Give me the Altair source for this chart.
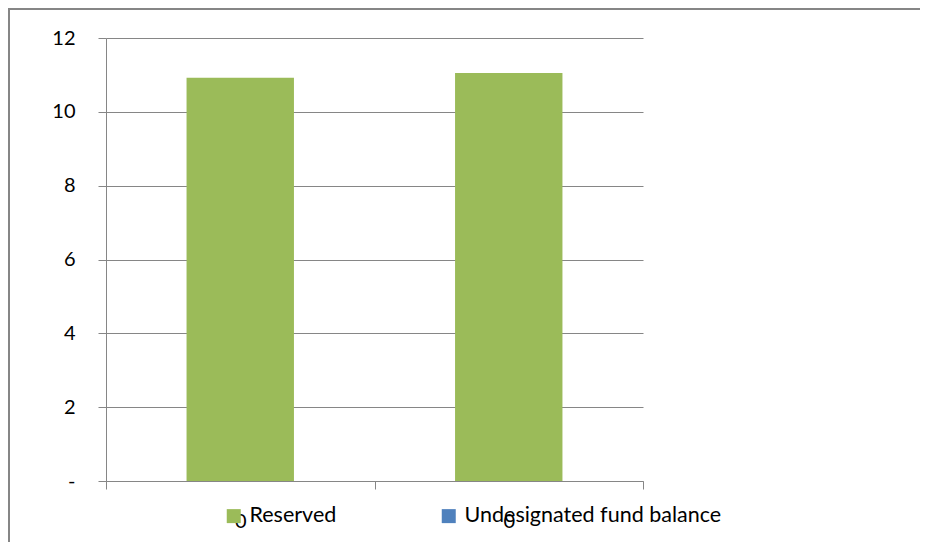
import altair as alt
import pandas as pd

# ---- data ----
periods = ["p1", "p2"]
period_labels = ["0", "0"]
series = ["Reserved", "Undesignated fund balance"]
reserved = [10.92, 11.05]
undesignated = [0, 0]
colors = ["#9BBB59", "#4F81BD"]
y_ticks = [0, 2, 4, 6, 8, 10, 12]

rows = []
for p, r, u in zip(periods, reserved, undesignated):
    rows.append({"period": p, "series": series[0], "value": r, "ord": 0})
    rows.append({"period": p, "series": series[1], "value": u, "ord": 1})
df = pd.DataFrame(rows)

label_map = "{" + ",".join(f"'{p}':'{l}'" for p, l in zip(periods, period_labels)) + "}"
x_label_expr = f"{label_map}[datum.value]"

FONT = "Lato"
FS = 20
LFS = 21.5
GRAY = "#868686"

bars = alt.Chart(df).mark_bar(width=alt.RelativeBandSize(0.4)).encode(
    x=alt.X(
        "period:N",
        sort=periods,
        title=None,
        scale=alt.Scale(paddingInner=0, paddingOuter=0),
        axis=alt.Axis(
            labelExpr=x_label_expr,
            labelAngle=0,
            tickBand="extent",
            tickSize=8,
            tickColor=GRAY,
            domainColor=GRAY,
            labelPadding=22,
            labelFont=FONT,
            labelFontSize=FS,
            labelColor="black",
            grid=False,
        ),
    ),
    y=alt.Y(
        "value:Q",
        stack="zero",
        title=None,
        scale=alt.Scale(domain=[0, 12], nice=False),
        axis=alt.Axis(
            values=y_ticks,
            labelExpr="datum.value == 0 ? '-' : datum.label",
            tickSize=8,
            tickColor=GRAY,
            domainColor=GRAY,
            gridColor=GRAY,
            grid=True,
            labelPadding=23,
            labelFont=FONT,
            labelFontSize=FS,
            labelColor="black",
        ),
    ),
    color=alt.Color(
        "series:N",
        scale=alt.Scale(domain=series, range=colors),
        legend=alt.Legend(
            orient="none",
            legendX=117,
            legendY=467,
            direction="horizontal",
            title=None,
            symbolType="square",
            symbolSize=196,
            symbolStrokeWidth=0,
            labelFont=FONT,
            labelFontSize=LFS,
            labelColor="black",
            labelOffset=5,
            labelLimit=0,
            columnPadding=101,
        ),
    ),
    order=alt.Order("ord:Q"),
)

frame = pd.DataFrame({"a": [0]})
top_border = alt.Chart(frame).mark_rule(stroke=GRAY, strokeWidth=2).encode(
    x=alt.value(-97), x2=alt.value(1000), y=alt.value(-29), y2=alt.value(-29)
)
left_border = alt.Chart(frame).mark_rule(stroke=GRAY, strokeWidth=2).encode(
    x=alt.value(-97), x2=alt.value(-97), y=alt.value(-30), y2=alt.value(700)
)

chart = alt.layer(top_border, left_border, bars).properties(
    width=537,
    height=443,
    autosize=alt.AutoSizeParams(type="none"),
    padding={"left": 98, "top": 30, "right": 277, "bottom": 61},
    background="white",
).configure_view(stroke=None)

chart.save("out.html", embed_options={"renderer": "svg", "actions": False})
